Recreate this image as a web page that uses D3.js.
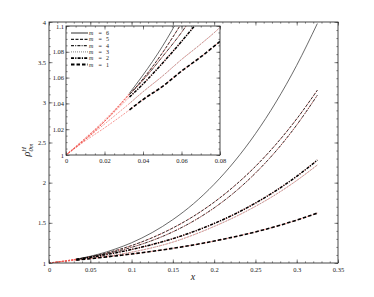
<!DOCTYPE html>
<html lang="en">
<head>
<meta charset="UTF-8">
<title>rho H 0m</title>
<script src="https://d3js.org/d3.v7.min.js"></script>
<style>
  body { margin: 0; background: #fff; }
  text { font-family: "Liberation Serif", "DejaVu Serif", serif; fill: #222; }
</style>
</head>
<body>
<script>
// x grid shared by every curve
var xs = [0, 0.01, 0.02, 0.033, 0.04, 0.05, 0.06, 0.07, 0.08, 0.1, 0.125, 0.15, 0.175, 0.2, 0.225, 0.25, 0.275, 0.3, 0.325];

// one array per m
var m6 = [1, 1.012, 1.026, 1.048, 1.062, 1.084, 1.110, 1.139, 1.173, 1.252, 1.379, 1.540, 1.738, 1.980, 2.269, 2.609, 3.005, 3.461, 3.981];
var m5 = [1, 1.012, 1.026, 1.047, 1.059, 1.079, 1.102, 1.126, 1.154, 1.217, 1.315, 1.436, 1.582, 1.757, 1.963, 2.202, 2.479, 2.794, 3.151];
var m4 = [1, 1.013, 1.027, 1.047, 1.058, 1.076, 1.095, 1.117, 1.140, 1.195, 1.280, 1.388, 1.522, 1.686, 1.883, 2.119, 2.395, 2.718, 3.089];
var m3 = [1, 1.012, 1.024, 1.040, 1.049, 1.061, 1.074, 1.086, 1.099, 1.135, 1.190, 1.260, 1.350, 1.455, 1.572, 1.705, 1.855, 2.027, 2.220];
var m2 = [1, 1.013, 1.026, 1.045, 1.055, 1.071, 1.088, 1.106, 1.125, 1.168, 1.230, 1.303, 1.390, 1.492, 1.609, 1.746, 1.902, 2.079, 2.280];
var m1 = [1, 1.011, 1.021, 1.035, 1.043, 1.053, 1.065, 1.076, 1.088, 1.112, 1.146, 1.183, 1.225, 1.273, 1.327, 1.387, 1.456, 1.534, 1.621];

var mValues = [6, 5, 4, 3, 2, 1];
var blackStart = 3; // black curves begin at x = 0.033

// tick labels
var xTicks = [0, 0.05, 0.1, 0.15, 0.2, 0.25, 0.3, 0.35];
var yTicks = [1, 1.5, 2, 2.5, 3, 3.5, 4];
var xTicksIn = [0, 0.02, 0.04, 0.06, 0.08];
var yTicksIn = [1, 1.02, 1.04, 1.06, 1.08, 1.1];

var series = [m6, m5, m4, m3, m2, m1];
var styles = [
    {stroke: '#444', w: 0.8, dash: null},
    {stroke: '#222', w: 0.9, dash: '3,1.5'},
    {stroke: '#222', w: 0.9, dash: '3,1.2,1,1.2'},
    {stroke: '#999', w: 0.8, dash: '1,1'},
    {stroke: '#000', w: 1.5, dash: '3,1.2,1.2,1.2'},
    {stroke: '#000', w: 1.6, dash: '3.5,2'}
];

var width = 374, height = 297;
var svg = d3.select('body').append('svg')
    .attr('width', width)
    .attr('height', height);

function range(a, b, s) {
    var out = [];
    for (var v = a; v <= b + s / 10; v += s) out.push(+v.toFixed(4));
    return out;
}

// draws box frame with inward major/minor ticks on all sides
function frame(g, x, y, xt, yt, xMinor, yMinor, pad) {
    var x0 = x.range()[0], x1 = x.range()[1], y0 = y.range()[0], y1 = y.range()[1];
    var mk = function (axis, tr) {
        g.append('g').attr('transform', tr).call(axis)
            .call(function (s) { s.select('.domain').remove(); })
            .selectAll('line').attr('stroke', '#333').attr('stroke-width', 0.6);
    };
    mk(d3.axisBottom(x).tickValues(xMinor).tickSize(-1.6).tickFormat(''), 'translate(0,' + y0 + ')');
    mk(d3.axisTop(x).tickValues(xMinor).tickSize(-1.6).tickFormat(''), 'translate(0,' + y1 + ')');
    mk(d3.axisLeft(y).tickValues(yMinor).tickSize(-1.6).tickFormat(''), 'translate(' + x0 + ',0)');
    mk(d3.axisRight(y).tickValues(yMinor).tickSize(-1.6).tickFormat(''), 'translate(' + x1 + ',0)');
    mk(d3.axisTop(x).tickValues(xt).tickSize(-3.5).tickFormat(''), 'translate(0,' + y1 + ')');
    mk(d3.axisRight(y).tickValues(yt).tickSize(-3.5).tickFormat(''), 'translate(' + x1 + ',0)');

    var bx = g.append('g').attr('transform', 'translate(0,' + y0 + ')')
        .call(d3.axisBottom(x).tickValues(xt).tickSize(-3.5).tickPadding(pad.x).tickFormat(String));
    var by = g.append('g').attr('transform', 'translate(' + x0 + ',0)')
        .call(d3.axisLeft(y).tickValues(yt).tickSize(-3.5).tickPadding(pad.y).tickFormat(String));
    [bx, by].forEach(function (a) {
        a.select('.domain').remove();
        a.selectAll('line').attr('stroke', '#333').attr('stroke-width', 0.6);
        a.selectAll('text').attr('font-family', '"Liberation Serif", serif')
            .attr('font-size', 6.5).attr('fill', '#222');
    });

    g.append('rect')
        .attr('x', x0).attr('y', y1)
        .attr('width', x1 - x0).attr('height', y0 - y1)
        .attr('fill', 'none').attr('stroke', '#333').attr('stroke-width', 0.9);
}

function curves(g, x, y, clipId) {
    var cg = g.append('g').attr('clip-path', 'url(#' + clipId + ')');
    var line = d3.line()
        .x(function (d) { return x(d[0]); })
        .y(function (d) { return y(d[1]); })
        .curve(d3.curveMonotoneX);
    // thin red approximations first, from x = 0 (solid m = 6 only until the black starts)
    series.forEach(function (vals, i) {
        var pts = xs.map(function (v, j) { return [v, vals[j]]; });
        if (i === 0) pts = pts.slice(0, blackStart + 1);
        cg.append('path')
            .attr('d', line(pts))
            .attr('fill', 'none')
            .attr('stroke', '#f0504a')
            .attr('stroke-width', 0.6)
            .attr('stroke-dasharray', '2,1.2');
    });
    // black curves on top
    series.forEach(function (vals, i) {
        var pts = xs.map(function (v, j) { return [v, vals[j]]; });
        var st = styles[i];
        cg.append('path')
            .attr('d', line(pts.slice(blackStart)))
            .attr('fill', 'none')
            .attr('stroke', st.stroke)
            .attr('stroke-width', st.w)
            .attr('stroke-dasharray', st.dash);
    });
}

var defs = svg.append('defs');

// main plot
var x = d3.scaleLinear().domain([0, 0.35]).range([49, 338]);
var y = d3.scaleLinear().domain([1, 4]).range([263, 22]);

defs.append('clipPath').attr('id', 'clipMain').append('rect')
    .attr('x', 49).attr('y', 22).attr('width', 289).attr('height', 241);

var main = svg.append('g');
curves(main, x, y, 'clipMain');
frame(main, x, y, xTicks, yTicks, range(0, 0.35, 0.01), range(1, 4, 0.1), {x: 4, y: 3});

main.append('text')
    .attr('x', 193).attr('y', 280)
    .attr('text-anchor', 'middle')
    .attr('font-size', 10).attr('font-style', 'italic')
    .text('x');

var yl = main.append('text')
    .attr('transform', 'translate(30,150) rotate(-90)')
    .attr('text-anchor', 'middle')
    .attr('font-size', 10);
yl.append('tspan').attr('font-style', 'italic').text('ρ');
yl.append('tspan').attr('font-size', 6.5).attr('font-style', 'italic').attr('dy', -4).text('H');
yl.append('tspan').attr('font-size', 6.5).attr('font-style', 'italic').attr('dx', -4.5).attr('dy', 7).text('0m');

// inset
var xi = d3.scaleLinear().domain([0, 0.08]).range([66, 220]);
var yi = d3.scaleLinear().domain([1, 1.1]).range([155, 26]);

defs.append('clipPath').attr('id', 'clipIn').append('rect')
    .attr('x', 66).attr('y', 26).attr('width', 154).attr('height', 129);

var inset = svg.append('g');
inset.append('rect')
    .attr('x', 66).attr('y', 26).attr('width', 154).attr('height', 129)
    .attr('fill', '#fff');
curves(inset, xi, yi, 'clipIn');
frame(inset, xi, yi, xTicksIn, yTicksIn, range(0, 0.08, 0.005), range(1, 1.1, 0.005), {x: 3, y: 2});

// legend
var leg = inset.append('g');
mValues.forEach(function (m, i) {
    var ly = 33 + i * 6.3;
    var st = styles[i];
    leg.append('line')
        .attr('x1', 71).attr('x2', 88)
        .attr('y1', ly).attr('y2', ly)
        .attr('stroke', st.stroke)
        .attr('stroke-width', st.w + 0.3)
        .attr('stroke-dasharray', st.dash);
    var t = leg.append('text')
        .attr('y', ly + 2)
        .attr('font-size', 6);
    t.append('tspan').attr('x', 89).attr('font-style', 'italic').text('m');
    t.append('tspan').attr('x', 97).text(' = ');
    t.append('tspan').attr('x', 106).text(m);
});
</script>
</body>
</html>
